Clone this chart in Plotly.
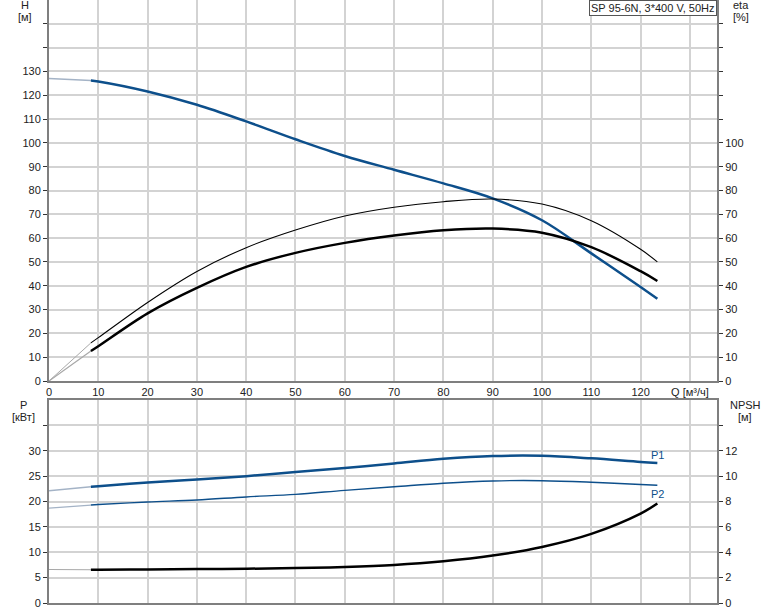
import plotly.graph_objects as go

# ---- data ----
q_ext = [0, 8.5]
q = [8.5, 10, 20, 30, 40, 50, 60, 70, 80, 90, 100, 110, 120, 123.4]

h_ext = [127.0, 126.2]
h = [126.2, 125.8, 121.6, 116.0, 109.0, 101.5, 94.5, 88.7, 83.0, 76.7, 67.5, 53.6, 39.5, 34.5]

eta_thin_ext = [0, 16.0]
eta_thin = [16.0, 18.2, 33.0, 46.0, 56.0, 63.4, 69.3, 73.0, 75.3, 76.4, 74.3, 67.3, 55.3, 50.0]

eta_thick_ext = [0, 12.6]
eta_thick = [12.6, 14.6, 28.4, 39.1, 47.9, 53.8, 58.0, 61.1, 63.3, 64.0, 62.3, 56.2, 46.1, 42.0]

p1_ext = [22.1, 22.9]
p1 = [22.9, 23.0, 23.75, 24.35, 25.0, 25.8, 26.6, 27.5, 28.4, 28.95, 29.0, 28.5, 27.8, 27.6]

p2_ext = [18.7, 19.3]
p2 = [19.3, 19.4, 19.9, 20.3, 20.9, 21.4, 22.2, 22.9, 23.6, 24.05, 24.1, 23.8, 23.35, 23.2]

npsh_ext = [2.64, 2.62]
npsh = [2.62, 2.62, 2.64, 2.67, 2.70, 2.75, 2.84, 3.0, 3.29, 3.74, 4.42, 5.45, 7.05, 7.84]

x_ticks = [0, 10, 20, 30, 40, 50, 60, 70, 80, 90, 100, 110, 120, 130]
x_labels = ["0", "10", "20", "30", "40", "50", "60", "70", "80", "90", "100", "110", "120", "Q [м³/ч]"]
h_ticks = list(range(0, 160, 10))
h_labels = [str(v) if v <= 130 else "" for v in h_ticks]
eta_labels = [str(v) if v <= 100 else "" for v in h_ticks]
p_ticks = [0, 5, 10, 15, 20, 25, 30, 35]
p_labels = ["0", "5", "10", "15", "20", "25", "30", ""]
npsh_ticks = [0, 2, 4, 6, 8, 10, 12, 14]
npsh_labels = ["0", "2", "4", "6", "8", "10", "12", ""]

title_text = "SP 95-6N, 3*400 V, 50Hz"

# ---- styles ----
BLUE = "#0d4f8b"
BLUE_LIGHT = "#a4b3c6"
GREY_LIGHT = "#a8a8a8"
GRID = "#d3d3d3"
AXIS = "#7f7f7f"
FONT = dict(family="Liberation Sans, Arial, sans-serif", size=11, color="#222222")

fig = go.Figure()

def add(x, y, color, width, xa, ya):
    fig.add_trace(go.Scatter(x=x, y=y, mode="lines", line=dict(color=color, width=width, shape="spline", smoothing=1.0),
                             xaxis=xa, yaxis=ya, hoverinfo="skip", showlegend=False))

# top: H and eta
add(q_ext, h_ext, BLUE_LIGHT, 1.5, "x", "y")
add(q, h, BLUE, 2.5, "x", "y")
add(q_ext, eta_thin_ext, GREY_LIGHT, 1, "x", "y2")
add(q, eta_thin, "#000000", 1.1, "x", "y2")
add(q_ext, eta_thick_ext, GREY_LIGHT, 1.2, "x", "y2")
add(q, eta_thick, "#000000", 2.5, "x", "y2")

# bottom: P and NPSH
add(q_ext, p1_ext, BLUE_LIGHT, 1.5, "x2", "y3")
add(q, p1, BLUE, 2.5, "x2", "y3")
add(q_ext, p2_ext, BLUE_LIGHT, 1.2, "x2", "y3")
add(q, p2, BLUE, 1.4, "x2", "y3")
add(q_ext, npsh_ext, GREY_LIGHT, 1.2, "x2", "y4")
add(q, npsh, "#000000", 2.5, "x2", "y4")

W, H = 774, 611
ml, mr, mt, mb = 49, 57, 0, 8
ph = H - mt - mb
top_dom = [(ph - 381) / ph, 1.0]
bot_dom = [0.0, (ph - 400) / ph]

xr = [0, 135.5]
common_x = dict(range=xr, tickmode="array", tickvals=x_ticks, showgrid=True, gridcolor=GRID, gridwidth=1.5,
                zeroline=False, showline=True, linecolor=AXIS, linewidth=2, ticks="", tickfont=FONT)

fig.update_layout(
    width=W, height=H,
    margin=dict(l=ml, r=mr, t=mt, b=mb),
    paper_bgcolor="white", plot_bgcolor="white",
    font=FONT,
    xaxis=dict(common_x, domain=[0, 1], anchor="y", ticktext=x_labels, showticklabels=True),
    yaxis=dict(domain=top_dom, range=[0, 160], tickmode="array", tickvals=h_ticks, ticktext=h_labels,
               showgrid=True, gridcolor=GRID, gridwidth=1.5, zeroline=False, showline=True, linecolor=AXIS,
               linewidth=2, ticks="outside", ticklen=4, tickcolor="#333", tickfont=FONT, anchor="x"),
    yaxis2=dict(range=[0, 160], overlaying="y", side="right", anchor="x", tickmode="array", tickvals=h_ticks,
                ticktext=eta_labels, showgrid=False, zeroline=False, showline=True, linecolor=AXIS, linewidth=2,
                ticks="outside", ticklen=4, tickcolor="#333", tickfont=FONT),
    xaxis2=dict(common_x, domain=[0, 1], anchor="y3", ticktext=x_labels, showticklabels=False, mirror=True),
    yaxis3=dict(domain=bot_dom, range=[0, 40], tickmode="array", tickvals=p_ticks, ticktext=p_labels,
                showgrid=True, gridcolor=GRID, gridwidth=1.5, zeroline=False, showline=True, linecolor=AXIS,
                linewidth=2, ticks="outside", ticklen=4, tickcolor="#333", tickfont=FONT, anchor="x2"),
    yaxis4=dict(range=[0, 16], overlaying="y3", side="right", anchor="x2", tickmode="array", tickvals=npsh_ticks,
                ticktext=npsh_labels, showgrid=False, zeroline=False, showline=True, linecolor=AXIS, linewidth=2,
                ticks="outside", ticklen=4, tickcolor="#333", tickfont=FONT),
)

def px_x(px):
    return (px - ml) / (W - ml - mr)

def px_y(py):
    return (H - mb - py) / ph

labels = [("H", 25, 5), ("[м]", 25, 17), ("eta", 741, 5), ("[%]", 741, 17),
          ("P", 23, 405), ("[кВт]", 23, 417), ("NPSH", 745, 405), ("[м]", 745, 417)]
for t, x0, y0 in labels:
    fig.add_annotation(text=t, x=px_x(x0), y=px_y(y0), xref="paper", yref="paper", showarrow=False,
                       xanchor="center", yanchor="middle", font=FONT)

fig.add_annotation(text=title_text, x=1.0, y=1.0, xref="paper", yref="paper", xanchor="right", yanchor="top",
                   showarrow=False, bgcolor="white", bordercolor="#555555", borderwidth=1, borderpad=1, font=FONT)

fig.add_annotation(text="P1", x=q[-1], y=p1[-1], xref="x2", yref="y3", xanchor="center", yanchor="bottom",
                   showarrow=False, font=dict(FONT, color=BLUE), yshift=0)
fig.add_annotation(text="P2", x=q[-1], y=p2[-1], xref="x2", yref="y3", xanchor="center", yanchor="top",
                   showarrow=False, font=dict(FONT, color=BLUE), yshift=-1)

fig.write_html("out.html", config={"displayModeBar": False},
               post_script="document.body.style.margin='0';document.body.style.padding='0';")
